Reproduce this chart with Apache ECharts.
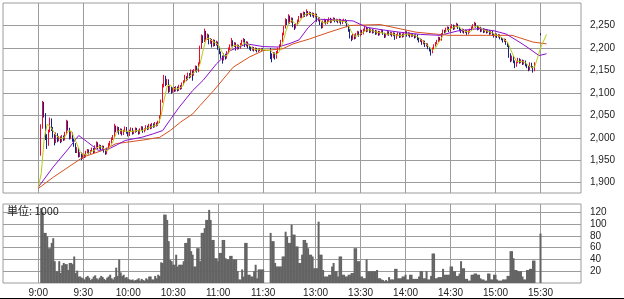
<!DOCTYPE html>
<html><head><meta charset="utf-8">
<script src="https://cdn.jsdelivr.net/npm/echarts@6/dist/echarts.min.js"></script>
<style>html,body{margin:0;padding:0;background:#fff}#c{width:624px;height:299px}</style>
</head><body><div id="c"></div><script>
// ---- data ----
const tickTimes = ['9:00','9:30','10:00','10:30','11:00','11:30','13:00','13:30','14:00','14:30','15:00','15:30'];
const priceTicks = [1900,1950,2000,2050,2100,2150,2200,2250];
const volTicks = [20,40,60,80,100,120];
const volUnit = '単位: 1000';

const amStart = '9:02';   // 1-minute bars, morning session
const pmStart = '12:30';  // 1-minute bars, afternoon session
const closeTime = '15:30'; // closing auction

// [open, close, low, high]
const amCandles = [
[1965,2025,1960,2030],[2025,2075,2020,2082],[2075,2050,2045,2080],[2050,2000,1995,2055],[2000,1985,1975,2008],[1985,2015,1982,2018],[2015,2040,2012,2045],[2040,2020,2015,2043],[2020,2005,2000,2024],[2005,1990,1983,2008],
[1990,2008,1988,2012],[2008,1995,1990,2010],[1995,2000,1992,2004],[2000,1992,1988,2003],[1992,2002,1990,2006],[2002,1996,1993,2005],[1996,2010,1994,2013],[2010,2035,2008,2040],[2035,2020,2016,2038],[2020,2000,1996,2022],
[2000,2010,1997,2014],[2010,1995,1991,2012],[1995,1985,1980,1998],[1985,1970,1966,1988],[1970,1975,1966,1979],[1975,1960,1956,1977],[1960,1965,1957,1968],[1965,1955,1950,1967],[1955,1962,1953,1965],[1962,1958,1955,1964],
[1958,1968,1956,1971],[1968,1972,1965,1975],[1972,1966,1963,1974],[1966,1970,1964,1973],[1970,1975,1968,1978],[1975,1968,1965,1977],[1968,1980,1966,1983],[1980,1988,1978,1992],[1988,1978,1975,1990],[1978,1982,1975,1985],
[1982,1975,1972,1984],[1975,1980,1973,1983],[1980,1970,1967,1982],[1970,1965,1962,1972],[1965,1975,1963,1978],[1975,1985,1973,1988],[1985,1990,1982,1993],[1990,1998,1987,2001],[1998,2003,1995,2006],[2003,2025,2001,2031],
[2025,2015,2012,2027],[2015,2022,2012,2025],[2022,2010,2007,2024],[2010,2018,2008,2021],[2018,2008,2005,2020],[2008,2015,2006,2018],[2015,2022,2013,2025],[2022,2012,2009,2024],[2012,2006,2003,2014],[2006,2015,2004,2018],
[2015,2020,2013,2023],[2020,2010,2007,2022],[2010,2013,2008,2016],[2013,2020,2011,2023],[2020,2016,2013,2022],[2016,2010,2007,2018],[2010,2018,2008,2021],[2018,2023,2016,2026],[2023,2014,2011,2025],[2014,2018,2012,2021],
[2018,2025,2016,2028],[2025,2020,2017,2027],[2020,2028,2018,2031],[2028,2022,2019,2030],[2022,2030,2020,2033],[2030,2025,2022,2032],[2025,2032,2023,2035],[2032,2028,2025,2034],[2028,2035,2026,2038],[2035,2045,2033,2050],
[2045,2080,2043,2085],[2080,2115,2078,2120],[2115,2135,2112,2140],[2135,2120,2115,2138],[2120,2128,2117,2131],[2128,2105,2100,2130],[2105,2112,2102,2116],[2112,2102,2098,2114],[2102,2110,2100,2113],[2110,2105,2102,2113],
[2105,2112,2103,2115],[2112,2106,2103,2114],[2106,2115,2104,2118],[2115,2110,2107,2117],[2110,2120,2108,2123],[2120,2125,2117,2128],[2125,2135,2122,2140],[2135,2130,2126,2137],[2130,2142,2128,2145],[2142,2136,2132,2144],
[2136,2148,2134,2152],[2148,2140,2127,2150],[2140,2150,2138,2153],[2150,2158,2147,2161],[2158,2148,2145,2160],[2148,2165,2146,2168],[2165,2200,2163,2205],[2200,2225,2198,2230],[2225,2215,2211,2228],[2215,2235,2213,2243],
[2235,2220,2216,2238],[2220,2228,2218,2232],[2228,2212,2208,2230],[2212,2218,2209,2222],[2218,2205,2201,2220],[2205,2215,2203,2219],[2215,2208,2204,2218],[2208,2212,2205,2216],[2212,2200,2196,2214],[2200,2190,2186,2203],
[2190,2180,2176,2192],[2180,2175,2165,2183],[2175,2185,2172,2188],[2185,2178,2174,2187],[2178,2190,2176,2193],[2190,2198,2187,2201],[2198,2205,2195,2208],[2205,2215,2203,2222],[2215,2205,2201,2217],[2205,2210,2202,2213],
[2210,2198,2194,2212],[2198,2205,2196,2208],[2205,2200,2197,2207],[2200,2208,2198,2211],[2208,2215,2206,2218],[2215,2218,2212,2222],[2218,2205,2202,2220],[2205,2212,2203,2215],[2212,2202,2199,2214],[2202,2200,2196,2205],
[2200,2196,2193,2202],[2196,2200,2194,2203],[2200,2195,2192,2202],[2195,2198,2193,2201],[2198,2193,2190,2200],[2193,2197,2191,2199],[2197,2195,2193,2199],[2195,2198,2193,2200],[2198,2196,2194,2200]
];
const pmCandles = [
[2196,2185,2175,2200],[2185,2180,2168,2188],[2180,2188,2177,2191],[2188,2178,2174,2190],[2178,2190,2176,2193],[2190,2198,2188,2201],[2198,2205,2195,2208],[2205,2215,2203,2218],[2215,2230,2213,2234],[2230,2245,2228,2249],
[2245,2262,2243,2266],[2262,2255,2251,2264],[2255,2270,2253,2275],[2270,2258,2254,2272],[2258,2265,2256,2268],[2265,2250,2246,2267],[2250,2245,2240,2253],[2245,2252,2243,2255],[2252,2260,2250,2263],[2260,2268,2258,2271],
[2268,2275,2266,2278],[2275,2270,2267,2277],[2270,2278,2268,2281],[2278,2272,2269,2280],[2272,2280,2270,2286],[2280,2275,2272,2282],[2275,2278,2273,2281],[2278,2272,2269,2280],[2272,2276,2270,2279],[2276,2270,2267,2278],
[2270,2274,2268,2277],[2274,2262,2258,2276],[2262,2266,2259,2269],[2266,2255,2251,2268],[2255,2246,2243,2257],[2246,2258,2244,2261],[2258,2262,2256,2265],[2262,2255,2252,2264],[2255,2260,2253,2263],[2260,2265,2258,2268],
[2265,2258,2255,2267],[2258,2262,2256,2265],[2262,2265,2260,2268],[2265,2260,2257,2267],[2260,2262,2258,2265],[2262,2258,2255,2264],[2258,2262,2256,2265],[2262,2255,2252,2264],[2255,2260,2253,2263],[2260,2262,2258,2265],
[2262,2258,2255,2264],[2258,2250,2246,2260],[2250,2240,2236,2252],[2240,2225,2221,2242],[2225,2220,2215,2228],[2220,2228,2218,2231],[2228,2222,2219,2230],[2222,2230,2220,2233],[2230,2235,2228,2238],[2235,2228,2225,2237],
[2228,2238,2226,2241],[2238,2232,2229,2240],[2232,2240,2230,2243],[2240,2245,2238,2249],[2245,2238,2235,2247],[2238,2242,2236,2245],[2242,2236,2233,2244],[2236,2240,2234,2243],[2240,2235,2232,2242],[2235,2238,2233,2241],
[2238,2232,2229,2240],[2232,2236,2230,2239],[2236,2230,2227,2238],[2230,2235,2228,2238],[2235,2238,2233,2241],[2238,2232,2229,2240],[2232,2225,2222,2234],[2225,2230,2223,2233],[2230,2235,2228,2238],[2235,2230,2227,2237],
[2230,2233,2228,2236],[2233,2228,2225,2235],[2228,2232,2226,2235],[2232,2222,2218,2234],[2222,2228,2220,2231],[2228,2232,2226,2235],[2232,2225,2222,2234],[2225,2230,2223,2233],[2230,2226,2223,2232],[2226,2232,2224,2235],
[2232,2235,2230,2238],[2235,2228,2225,2237],[2228,2232,2226,2235],[2232,2226,2223,2234],[2226,2230,2224,2233],[2230,2228,2225,2232],[2228,2224,2221,2230],[2224,2228,2222,2231],[2228,2220,2217,2230],[2220,2215,2212,2222],
[2215,2218,2213,2221],[2218,2210,2207,2220],[2210,2214,2208,2217],[2214,2205,2202,2216],[2205,2208,2203,2211],[2208,2200,2197,2210],[2200,2195,2192,2202],[2195,2190,2183,2197],[2190,2198,2188,2201],[2198,2205,2196,2208],
[2205,2210,2203,2213],[2210,2215,2208,2218],[2215,2222,2213,2225],[2222,2218,2215,2224],[2218,2230,2216,2233],[2230,2238,2228,2241],[2238,2235,2232,2240],[2235,2242,2233,2245],[2242,2245,2240,2248],[2245,2238,2235,2247],
[2238,2245,2236,2248],[2245,2250,2243,2253],[2250,2243,2240,2252],[2243,2248,2241,2251],[2248,2252,2246,2256],[2252,2245,2242,2254],[2245,2240,2237,2247],[2240,2236,2233,2242],[2236,2240,2234,2243],[2240,2235,2232,2242],
[2235,2238,2233,2241],[2238,2232,2229,2240],[2232,2236,2230,2239],[2236,2240,2234,2243],[2240,2245,2238,2248],[2245,2250,2243,2253],[2250,2254,2248,2258],[2254,2248,2245,2256],[2248,2242,2239,2250],[2242,2245,2240,2248],
[2245,2238,2235,2247],[2238,2242,2236,2245],[2242,2236,2233,2244],[2236,2240,2234,2243],[2240,2235,2232,2242],[2235,2238,2233,2241],[2238,2232,2229,2240],[2232,2236,2230,2239],[2236,2230,2227,2238],[2230,2226,2223,2232],
[2226,2230,2224,2233],[2230,2225,2222,2232],[2225,2228,2223,2231],[2228,2222,2219,2230],[2222,2220,2217,2224],[2220,2215,2212,2222],[2215,2218,2213,2221],[2218,2210,2207,2220],[2210,2205,2202,2212],[2205,2185,2178,2207],
[2185,2172,2168,2188],[2172,2180,2170,2183],[2180,2170,2166,2182],[2170,2160,2155,2172],[2160,2168,2158,2171],[2168,2175,2166,2178],[2175,2168,2165,2177],[2168,2172,2166,2175],[2172,2165,2162,2174],[2165,2170,2163,2173],
[2170,2162,2159,2172],[2162,2158,2155,2164],[2158,2152,2148,2160],[2152,2165,2150,2168],[2165,2158,2155,2167],[2158,2150,2145,2160],[2150,2165,2148,2168]
];
const closeCandle = [2232,2228,2228,2233];

// volume, thousands of shares
const amVol = [
127,120,85,85,79,59,59,68,76,37, 20,20,37,17,30,34,32,32,22,34, 34,32,45,17,21,11,11,9,8,6,
10,12,9,5,7,11,13,8,6,9, 12,10,7,5,9,11,14,8,6,10, 26,12,40,18,12,14,9,10,7,6,
5,6,4,5,6,8,4,7,5,4, 8,6,11,11,6,6,12,8,14,12, 35,34,116,116,107,71,39,37,31,31,
48,28,31,31,31,37,68,68,76,76, 54,48,28,28,59,59,37,85,85,93, 107,107,124,107,73,73,42,42,37,51,
51,73,73,42,40,40,46,46,40,40, 40,20,6,6,23,11,68,68,14,14, 11,11,20,31,8,23,23,23,23
];
const pmVol = [
85,71,71,34,28,28,28,28,45,45, 87,79,68,68,99,82,82,62,62,34, 34,48,73,73,68,59,48,48,45,25,
25,25,104,48,48,22,11,11,11,14, 14,28,34,20,20,11,45,45,14,14, 11,11,14,14,17,17,59,59,37,37,
11,11,8,8,40,20,20,20,20,20, 20,22,8,8,6,5,3,5,3,10, 6,6,6,24,24,8,8,8,11,11,
14,6,6,14,14,7,7,7,7,11, 20,20,8,8,20,6,6,12,50,50, 8,8,10,10,10,24,14,14,14,14,
28,28,20,20,12,12,16,37,25,25, 7,7,4,4,14,14,16,16,14,14, 8,6,6,4,4,16,16,6,6,14,
14,6,4,4,4,6,6,6,12,12, 54,54,42,22,22,20,20,20,11,6, 6,22,22,24,24,38,38
];
const closeVol = 84;

// moving averages [time, value]
const maShort = [
['9:00',1890],['9:02',1920],['9:04',2000],['9:06',2030],['9:08',2025],['9:10',2015],['9:12',2005],['9:14',2000],['9:16',1998],['9:18',2003],
['9:20',2015],['9:22',2015],['9:24',2000],['9:26',1985],['9:28',1968],['9:30',1962],['9:32',1962],['9:34',1967],['9:36',1970],['9:38',1973],
['9:40',1980],['9:42',1980],['9:44',1975],['9:46',1970],['9:48',1980],['9:50',1993],['9:52',2010],['9:54',2017],['9:56',2015],['9:58',2015],
['10:00',2014],['10:02',2014],['10:04',2015],['10:06',2016],['10:08',2015],['10:10',2017],['10:12',2020],['10:14',2023],['10:16',2025],['10:18',2027],
['10:20',2030],['10:22',2050],['10:24',2085],['10:26',2115],['10:28',2118],['10:30',2110],['10:32',2108],['10:34',2110],['10:36',2114],['10:38',2125],
['10:40',2134],['10:42',2140],['10:44',2145],['10:46',2150],['10:48',2165],['10:50',2195],['10:52',2220],['10:54',2222],['10:56',2215],['10:58',2212],
['11:00',2207],['11:02',2195],['11:04',2182],['11:06',2183],['11:08',2195],['11:10',2205],['11:12',2206],['11:14',2203],['11:16',2207],['11:18',2212],
['11:20',2207],['11:22',2202],['11:24',2197],['11:26',2196],['11:28',2196],['11:30',2196],
['12:30',2194],['12:32',2188],['12:34',2185],['12:36',2193],['12:38',2210],['12:40',2235],['12:42',2255],['12:44',2262],['12:46',2255],['12:48',2252],
['12:50',2262],['12:52',2272],['12:54',2276],['12:56',2277],['12:58',2275],['13:00',2273],['13:02',2268],['13:04',2258],['13:06',2255],['13:08',2257],
['13:10',2260],['13:12',2262],['13:14',2262],['13:16',2260],['13:18',2259],['13:20',2259],['13:22',2250],['13:24',2235],['13:26',2226],['13:28',2227],
['13:30',2232],['13:32',2235],['13:34',2240],['13:36',2240],['13:38',2238],['13:40',2236],['13:42',2234],['13:44',2234],['13:46',2232],['13:48',2230],
['13:50',2232],['13:52',2230],['13:54',2228],['13:56',2228],['13:58',2228],['14:00',2230],['14:02',2231],['14:04',2229],['14:06',2228],['14:08',2225],
['14:10',2219],['14:12',2214],['14:14',2208],['14:16',2202],['14:18',2195],['14:20',2200],['14:22',2212],['14:24',2222],['14:26',2232],['14:28',2240],
['14:30',2242],['14:32',2246],['14:34',2248],['14:36',2246],['14:38',2240],['14:40',2237],['14:42',2236],['14:44',2238],['14:46',2247],['14:48',2249],
['14:50',2244],['14:52',2240],['14:54',2238],['14:56',2236],['14:58',2233],['15:00',2229],['15:02',2227],['15:04',2223],['15:06',2218],['15:08',2213],
['15:10',2197],['15:12',2182],['15:14',2170],['15:16',2170],['15:18',2170],['15:20',2167],['15:22',2160],['15:24',2157],['15:26',2157],['15:28',2178],
['15:30',2200],['15:34',2230]
];
const maMid = [
['9:00',1890],['9:10',1935],['9:20',1975],['9:27',2005],['9:33',1990],['9:40',1972],['9:47',1975],['9:53',1985],['9:58',1994],['10:09',2001],
['10:16',2008],['10:23',2016],['10:28',2040],['10:34',2068],['10:43',2105],['10:50',2128],['10:59',2165],['11:08',2194],['11:19',2209],['11:30',2203],
['12:35',2202],['12:43',2210],['12:49',2218],['12:55',2245],['13:01',2264],['13:15',2262],['13:25',2260],['13:34',2246],['13:45',2240],['13:56',2235],
['14:10',2230],['14:23',2228],['14:35',2238],['14:49',2243],['14:59',2238],['15:07',2231],['15:15',2215],['15:21',2202],['15:29',2183],['15:34',2187]
];
const maLong = [
['9:00',1887],['9:10',1912],['9:30',1957],['9:43',1972],['9:52',1987],['9:59',1990],['10:10',1995],['10:21',2001],['10:28',2016],['10:35',2035],
['10:43',2053],['10:48',2072],['10:57',2105],['11:10',2157],['11:21',2180],['11:30',2194],['12:38',2198],['12:45',2209],['12:56',2220],['13:09',2235],
['13:23',2250],['13:43',2252],['14:07',2235],['14:29',2228],['14:54',2228],['15:11',2228],['15:25',2213],['15:34',2209]
];

// ---- helpers: time -> session slot (lunch break compressed) ----
function toMin(hm){const p=hm.split(':');return (+p[0])*60+(+p[1]);}
function toSlot(hm){const m=toMin(hm);return m<=690 ? m-540 : m-750+155;}
function slotOf(start,i){return toSlot(start)+i;}

const candleData = [];
amCandles.forEach((c,i)=>candleData.push([slotOf(amStart,i)].concat(c)));
pmCandles.forEach((c,i)=>candleData.push([slotOf(pmStart,i)].concat(c)));
candleData.push([toSlot(closeTime)].concat(closeCandle));
const volData = [];
amVol.forEach((v,i)=>volData.push([slotOf(amStart,i),v]));
pmVol.forEach((v,i)=>volData.push([slotOf(pmStart,i),v]));
volData.push([toSlot(closeTime),closeVol]);
const maPts = arr => arr.map(p=>[toSlot(p[0]),p[1]]);
const tickSlots = tickTimes.map(toSlot);

const GRID = '#9c9c9c';
const LBL = {fontFamily:'Liberation Sans, Arial, sans-serif', fontSize:10, color:'#222'};

const chart = echarts.init(document.getElementById('c'), null, {renderer:'canvas'});
chart.setOption({
  animation:false,
  backgroundColor:'#fff',
  grid:[
    {left:3, top:3, width:578, height:190, show:true, borderColor:GRID, borderWidth:1, backgroundColor:'#fff'},
    {left:3, top:204, width:578, height:79, show:true, borderColor:GRID, borderWidth:1, backgroundColor:'#fff'}
  ],
  xAxis:[
    {type:'value', gridIndex:0, min:-23.5, max:362, axisLine:{show:false},
     axisTick:{show:false, customValues:tickSlots}, axisLabel:{show:false, customValues:tickSlots},
     splitLine:{show:true, lineStyle:{color:GRID, width:1}}},
    {type:'value', gridIndex:1, min:-23.5, max:362, axisLine:{show:false},
     axisTick:{show:false, customValues:tickSlots},
     axisLabel:Object.assign({show:true, customValues:tickSlots, margin:5,
       formatter:v=>tickTimes[tickSlots.indexOf(v)]}, LBL),
     splitLine:{show:true, lineStyle:{color:GRID, width:1}}}
  ],
  yAxis:[
    {type:'value', gridIndex:0, position:'right', min:1877, max:2300, axisLine:{show:false},
     axisTick:{show:true, inside:false, length:5, lineStyle:{color:GRID}, customValues:priceTicks},
     axisLabel:Object.assign({customValues:priceTicks, margin:9, formatter:v=>v.toLocaleString('en-US')}, LBL),
     splitLine:{show:true, lineStyle:{color:GRID, width:1}}},
    {type:'value', gridIndex:1, position:'right', min:0, max:134, axisLine:{show:false},
     axisTick:{show:true, inside:false, length:5, lineStyle:{color:GRID}, customValues:volTicks},
     axisLabel:Object.assign({customValues:volTicks, margin:9}, LBL),
     splitLine:{show:true, lineStyle:{color:GRID, width:1}}}
  ],
  series:[
    {type:'candlestick', xAxisIndex:0, yAxisIndex:0, data:candleData, encode:{x:0, y:[1,2,3,4]},
     barWidth:1.3, itemStyle:{color:'#ee0a2e', color0:'#14228a', borderColor:'#ee0a2e', borderColor0:'#14228a', borderWidth:1}},
    {type:'line', xAxisIndex:0, yAxisIndex:0, data:maPts(maLong), symbol:'none', lineStyle:{color:'#d8501e', width:1}},
    {type:'line', xAxisIndex:0, yAxisIndex:0, data:maPts(maMid), symbol:'none', lineStyle:{color:'#8a10d0', width:1}},
    {type:'line', xAxisIndex:0, yAxisIndex:0, data:maPts(maShort), symbol:'none', lineStyle:{color:'#b8cc10', width:1}},
    {type:'bar', xAxisIndex:1, yAxisIndex:1, data:volData, barWidth:2, itemStyle:{color:'#646464'}}
  ],
  graphic:[
    {type:'text', left:7, top:205, z:100, style:{text:volUnit, font:'11px "Noto Sans CJK JP", "Liberation Sans", sans-serif', fill:'#222'}},
    {type:'line', z:100, shape:{x1:0, y1:298.5, x2:624, y2:298.5}, style:{stroke:'#000', lineWidth:1}}
  ]
});
</script></body></html>
